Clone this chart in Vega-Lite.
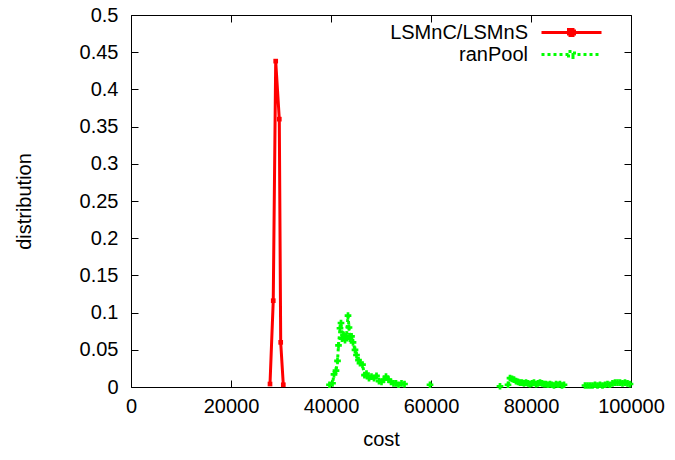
{
  "$schema": "https://vega.github.io/schema/vega-lite/v6.json",
  "width": 500,
  "height": 372,
  "autosize": {"type": "none"},
  "padding": {"left": 131, "top": 15, "right": 44, "bottom": 73},
  "config": {
    "font": "Liberation Sans",
    "view": {"stroke": "black", "strokeWidth": 1},
    "axis": {
      "grid": false,
      "domain": false,
      "labelFlush": false,
      "tickColor": "black",
      "tickSize": -7,
      "labelColor": "black",
      "titleColor": "black",
      "labelFontSize": 20,
      "titleFontSize": 20,
      "titleFontWeight": "normal",
      "labelFont": "Liberation Sans",
      "titleFont": "Liberation Sans"
    }
  },
  "data": {
    "values": [
      {"series": "LSMnC/LSMnS", "seg": "a", "cost": 27800, "dist": 0.004},
      {"series": "LSMnC/LSMnS", "seg": "a", "cost": 28450, "dist": 0.116},
      {"series": "LSMnC/LSMnS", "seg": "a", "cost": 28940, "dist": 0.438},
      {"series": "LSMnC/LSMnS", "seg": "a", "cost": 29660, "dist": 0.36},
      {"series": "LSMnC/LSMnS", "seg": "a", "cost": 29940, "dist": 0.06},
      {"series": "LSMnC/LSMnS", "seg": "a", "cost": 30460, "dist": 0.003},
      {"series": "ranPool", "seg": "b", "cost": 39700, "dist": 0.003},
      {"series": "ranPool", "seg": "b", "cost": 40300, "dist": 0.005},
      {"series": "ranPool", "seg": "b", "cost": 40600, "dist": 0.017},
      {"series": "ranPool", "seg": "b", "cost": 41000, "dist": 0.022},
      {"series": "ranPool", "seg": "b", "cost": 41300, "dist": 0.035},
      {"series": "ranPool", "seg": "b", "cost": 41500, "dist": 0.056},
      {"series": "ranPool", "seg": "b", "cost": 41800, "dist": 0.079},
      {"series": "ranPool", "seg": "b", "cost": 42000, "dist": 0.086},
      {"series": "ranPool", "seg": "b", "cost": 42200, "dist": 0.065},
      {"series": "ranPool", "seg": "b", "cost": 42500, "dist": 0.07},
      {"series": "ranPool", "seg": "b", "cost": 42800, "dist": 0.063},
      {"series": "ranPool", "seg": "b", "cost": 43100, "dist": 0.068},
      {"series": "ranPool", "seg": "b", "cost": 43400, "dist": 0.096},
      {"series": "ranPool", "seg": "b", "cost": 43600, "dist": 0.08},
      {"series": "ranPool", "seg": "b", "cost": 43800, "dist": 0.065},
      {"series": "ranPool", "seg": "b", "cost": 44100, "dist": 0.068},
      {"series": "ranPool", "seg": "b", "cost": 44400, "dist": 0.06},
      {"series": "ranPool", "seg": "b", "cost": 44800, "dist": 0.05},
      {"series": "ranPool", "seg": "b", "cost": 45100, "dist": 0.043},
      {"series": "ranPool", "seg": "b", "cost": 45500, "dist": 0.036},
      {"series": "ranPool", "seg": "b", "cost": 45800, "dist": 0.032},
      {"series": "ranPool", "seg": "b", "cost": 46300, "dist": 0.03},
      {"series": "ranPool", "seg": "b", "cost": 46700, "dist": 0.016},
      {"series": "ranPool", "seg": "b", "cost": 47100, "dist": 0.018},
      {"series": "ranPool", "seg": "b", "cost": 47600, "dist": 0.012},
      {"series": "ranPool", "seg": "b", "cost": 48100, "dist": 0.014},
      {"series": "ranPool", "seg": "b", "cost": 48600, "dist": 0.012},
      {"series": "ranPool", "seg": "b", "cost": 49100, "dist": 0.015},
      {"series": "ranPool", "seg": "b", "cost": 49600, "dist": 0.008},
      {"series": "ranPool", "seg": "b", "cost": 50100, "dist": 0.007},
      {"series": "ranPool", "seg": "b", "cost": 50600, "dist": 0.01},
      {"series": "ranPool", "seg": "b", "cost": 51000, "dist": 0.014},
      {"series": "ranPool", "seg": "b", "cost": 51500, "dist": 0.01},
      {"series": "ranPool", "seg": "b", "cost": 52000, "dist": 0.007},
      {"series": "ranPool", "seg": "b", "cost": 52500, "dist": 0.005},
      {"series": "ranPool", "seg": "b", "cost": 53000, "dist": 0.005},
      {"series": "ranPool", "seg": "b", "cost": 53500, "dist": 0.003},
      {"series": "ranPool", "seg": "b", "cost": 54100, "dist": 0.005},
      {"series": "ranPool", "seg": "b", "cost": 54700, "dist": 0.004},
      {"series": "ranPool", "seg": "c", "cost": 59800, "dist": 0.003},
      {"series": "ranPool", "seg": "d", "cost": 73800, "dist": 0.001},
      {"series": "ranPool", "seg": "e", "cost": 75400, "dist": 0.003},
      {"series": "ranPool", "seg": "e", "cost": 75800, "dist": 0.012},
      {"series": "ranPool", "seg": "e", "cost": 76200, "dist": 0.011},
      {"series": "ranPool", "seg": "e", "cost": 76600, "dist": 0.01},
      {"series": "ranPool", "seg": "e", "cost": 77000, "dist": 0.008},
      {"series": "ranPool", "seg": "e", "cost": 77400, "dist": 0.007},
      {"series": "ranPool", "seg": "e", "cost": 77800, "dist": 0.006},
      {"series": "ranPool", "seg": "e", "cost": 78200, "dist": 0.006},
      {"series": "ranPool", "seg": "e", "cost": 78600, "dist": 0.005},
      {"series": "ranPool", "seg": "e", "cost": 79000, "dist": 0.006},
      {"series": "ranPool", "seg": "e", "cost": 79400, "dist": 0.005},
      {"series": "ranPool", "seg": "e", "cost": 79800, "dist": 0.004},
      {"series": "ranPool", "seg": "e", "cost": 80200, "dist": 0.005},
      {"series": "ranPool", "seg": "e", "cost": 80600, "dist": 0.006},
      {"series": "ranPool", "seg": "e", "cost": 81000, "dist": 0.004},
      {"series": "ranPool", "seg": "e", "cost": 81400, "dist": 0.005},
      {"series": "ranPool", "seg": "e", "cost": 81800, "dist": 0.006},
      {"series": "ranPool", "seg": "e", "cost": 82200, "dist": 0.005},
      {"series": "ranPool", "seg": "e", "cost": 82600, "dist": 0.004},
      {"series": "ranPool", "seg": "e", "cost": 83000, "dist": 0.004},
      {"series": "ranPool", "seg": "e", "cost": 83400, "dist": 0.003},
      {"series": "ranPool", "seg": "e", "cost": 83800, "dist": 0.004},
      {"series": "ranPool", "seg": "e", "cost": 84200, "dist": 0.003},
      {"series": "ranPool", "seg": "e", "cost": 84600, "dist": 0.002},
      {"series": "ranPool", "seg": "e", "cost": 85000, "dist": 0.004},
      {"series": "ranPool", "seg": "e", "cost": 85400, "dist": 0.003},
      {"series": "ranPool", "seg": "e", "cost": 85800, "dist": 0.004},
      {"series": "ranPool", "seg": "e", "cost": 86200, "dist": 0.002},
      {"series": "ranPool", "seg": "e", "cost": 86600, "dist": 0.003},
      {"series": "ranPool", "seg": "f", "cost": 90800, "dist": 0.002},
      {"series": "ranPool", "seg": "f", "cost": 91300, "dist": 0.002},
      {"series": "ranPool", "seg": "f", "cost": 91800, "dist": 0.002},
      {"series": "ranPool", "seg": "f", "cost": 92300, "dist": 0.002},
      {"series": "ranPool", "seg": "f", "cost": 92800, "dist": 0.003},
      {"series": "ranPool", "seg": "f", "cost": 93300, "dist": 0.002},
      {"series": "ranPool", "seg": "f", "cost": 93800, "dist": 0.003},
      {"series": "ranPool", "seg": "f", "cost": 94300, "dist": 0.002},
      {"series": "ranPool", "seg": "f", "cost": 94800, "dist": 0.003},
      {"series": "ranPool", "seg": "f", "cost": 95300, "dist": 0.004},
      {"series": "ranPool", "seg": "f", "cost": 95800, "dist": 0.003},
      {"series": "ranPool", "seg": "f", "cost": 96300, "dist": 0.005},
      {"series": "ranPool", "seg": "f", "cost": 96800, "dist": 0.006},
      {"series": "ranPool", "seg": "f", "cost": 97300, "dist": 0.006},
      {"series": "ranPool", "seg": "f", "cost": 97800, "dist": 0.006},
      {"series": "ranPool", "seg": "f", "cost": 98300, "dist": 0.005},
      {"series": "ranPool", "seg": "f", "cost": 98800, "dist": 0.006},
      {"series": "ranPool", "seg": "f", "cost": 99300, "dist": 0.005},
      {"series": "ranPool", "seg": "f", "cost": 99800, "dist": 0.004}
    ]
  },
  "layer": [
    {
      "mark": {"type": "line", "strokeWidth": 3},
      "encoding": {
        "x": {"field": "cost", "type": "quantitative", "title": "cost",
              "scale": {"domain": [0, 100000], "nice": false},
              "axis": {"orient": "bottom", "values": [0, 20000, 40000, 60000, 80000, 100000], "format": "d", "labelPadding": 16, "titlePadding": 13}},
        "y": {"field": "dist", "type": "quantitative", "title": "distribution",
              "scale": {"domain": [0, 0.5], "nice": false},
              "axis": {"orient": "left", "values": [0, 0.05, 0.1, 0.15, 0.2, 0.25, 0.3, 0.35, 0.4, 0.45, 0.5], "format": "~g", "labelPadding": 20, "titlePadding": 45}},
        "color": {"field": "series", "type": "nominal",
                  "scale": {"domain": ["LSMnC/LSMnS", "ranPool"], "range": ["#ff0000", "#00ff00"]},
                  "legend": {"orient": "none", "legendX": 409, "legendY": 6, "padding": 0, "title": null, "labelAlign": "right", "labelFontSize": 20, "labelColor": "black", "labelFont": "Liberation Sans", "symbolType": "M-3,0H3M-0.3,-0.3H0.3V0.3H-0.3Z", "symbolSize": 400, "symbolStrokeWidth": 3, "symbolOffset": 20, "labelOffset": -55, "rowPadding": 0}},
        "strokeDash": {"field": "series", "type": "nominal",
                       "scale": {"domain": ["LSMnC/LSMnS", "ranPool"], "range": [[1, 0], [3, 3]]},
                       "legend": {"orient": "none", "title": null}},
        "detail": {"field": "seg"}
      }
    },
    {
      "transform": [{"filter": "datum.series == 'LSMnC/LSMnS'"}],
      "mark": {"type": "point", "filled": true, "opacity": 1, "shape": "square", "size": 22, "color": "#ff0000"},
      "encoding": {
        "x": {"field": "cost", "type": "quantitative", "axis": null},
        "y": {"field": "dist", "type": "quantitative", "axis": null}
      }
    },
    {
      "transform": [{"filter": "datum.series == 'ranPool'"}],
      "mark": {"type": "point", "filled": true, "opacity": 1, "shape": "cross", "size": 45, "color": "#00ff00"},
      "encoding": {
        "x": {"field": "cost", "type": "quantitative", "axis": null},
        "y": {"field": "dist", "type": "quantitative", "axis": null}
      }
    },
    {
      "mark": {"type": "point", "opacity": 0},
      "encoding": {
        "x": {"field": "cost", "type": "quantitative", "axis": {"orient": "top", "values": [0, 20000, 40000, 60000, 80000, 100000], "labels": false, "title": null}},
        "y": {"field": "dist", "type": "quantitative", "axis": {"orient": "right", "values": [0, 0.05, 0.1, 0.15, 0.2, 0.25, 0.3, 0.35, 0.4, 0.45, 0.5], "labels": false, "title": null}}
      }
    }
  ],
  "resolve": {"axis": {"x": "independent", "y": "independent"}}
}
